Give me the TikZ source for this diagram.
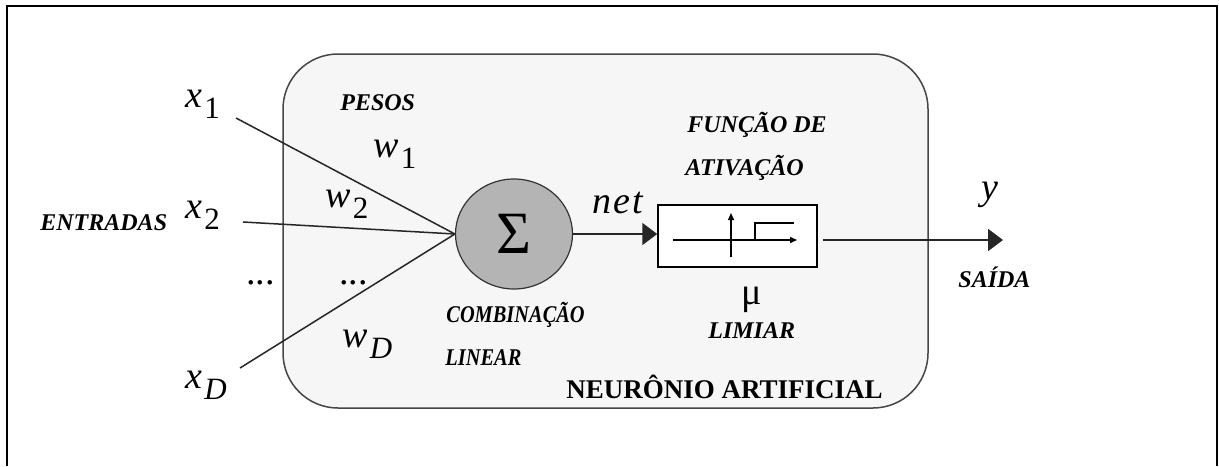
\documentclass[tikz,border=0pt]{standalone}
\usepackage{fontspec}
\setmainfont{Liberation Serif}[
  UprightFont={Liberation Serif},
  BoldFont={Liberation Serif Bold},
  ItalicFont={Liberation Serif Italic},
  BoldItalicFont={Liberation Serif Bold Italic}]
\usetikzlibrary{shapes.geometric,arrows.meta}
\definecolor{neurfill}{RGB}{246,246,246}
\definecolor{neurline}{RGB}{70,70,70}
\definecolor{sigfill}{RGB}{180,180,180}
\newcommand{\mvar}[2]{\textit{#1}\kern1pt\raisebox{-5.5pt}{\fontsize{15.5}{16}\selectfont #2}}
\begin{document}
\begin{tikzpicture}[x=0.5pt,y=-0.5pt,
  lbl/.style={font=\fontsize{12}{13}\selectfont\bfseries\itshape, inner sep=0pt, anchor=base west},
  mlbl/.style={font=\fontsize{19}{20}\selectfont, inner sep=0pt, anchor=base west},
  conn/.style={line width=0.75pt, draw=black!85},
  tri/.style={-{Triangle[length=7.5pt,width=11pt]}},
  smalltri/.style={-{Triangle[length=3.5pt,width=3pt]}}]
\useasboundingbox (0,0) rectangle (1219,466);
% outer frame (open at the bottom)
\draw[line width=1pt] (7,466) -- (7,6) -- (1217,6) -- (1217,466);
% neuron body
\node[draw=neurline, fill=neurfill, line width=0.75pt, rounded corners=27.5pt,
      minimum width=322.5pt, minimum height=177pt, inner sep=0pt] (neuron) at (605.5,231) {};
% summation
\node[ellipse, draw=black!80, fill=sigfill, line width=0.6pt, minimum width=58.5pt,
      minimum height=55pt, inner sep=0pt, font=\fontsize{30}{30}\selectfont] (sigma) at (514,234) {Σ};
% activation box
\node[draw, fill=white, line width=0.75pt, minimum width=79.5pt, minimum height=31pt,
      inner sep=0pt] (box) at (737.5,236) {};
% step function inside box
\draw[line width=0.7pt, smalltri] (673,240) -- (797,240);
\draw[line width=0.7pt, smalltri] (731,257) -- (731,213);
\draw[line width=0.7pt] (755,240) -- (755,223) -- (794,223);
% inputs
\coordinate (x1s) at (236,118);
\coordinate (x2s) at (243,222);
\coordinate (xDs) at (240,368);
\draw[conn] (x1s) -- (sigma.west);
\draw[conn] (x2s) -- (sigma.west);
\draw[conn] (xDs) -- (sigma.west);
% net arrow and output
\draw[conn, tri] (sigma.east) -- (box.west |- sigma.east);
\coordinate (yout) at (1003,240);
\draw[conn, tri] ([xshift=2.5pt,yshift=-2pt]box.east) -- (yout);
% math labels
\node[mlbl] (lx1) at (185,107) {\mvar{x}{1}};
\node[mlbl] (lx2) at (185,218) {\mvar{x}{2}};
\node[mlbl] (lxD) at (185,388) {\mvar{x}{\textit{D}}};
\node[mlbl] (lw1) at (373,157) {\mvar{w}{1}};
\node[mlbl] (lw2) at (325,207) {\mvar{w}{2}};
\node[mlbl] (lwD) at (342,347) {\mvar{w}{\textit{D}}};
\node[mlbl] (ly) at (981,199) {\textit{y}};
\node[mlbl] (lnet) at (592,213) {\textit{n\kern1pt e\kern1pt t}};
\node[mlbl, anchor=base] (lmu) at (752,304) {μ};
\node[mlbl] (dots1) at (246,284) {...};
\node[mlbl] (dots2) at (339,284) {...};
% text labels
\node[lbl] (pesos) at (340,110) {PESOS};
\node[lbl] (entr) at (40,230) {ENTRADAS};
\node[lbl] (comb) at (446,322) {\scalebox{0.85}[1]{COMBINAÇÃO}};
\node[lbl] (lin) at (445,365) {\scalebox{0.85}[1]{LINEAR}};
\node[lbl] (func) at (687,132) {FUNÇÃO DE};
\node[lbl] (ativ) at (685,175) {ATIVAÇÃO};
\node[lbl] (limiar) at (708,338) {LIMIAR};
\node[lbl] (saida) at (958,287) {SAÍDA};
\node[inner sep=0pt, anchor=base east, font=\fontsize{13.5}{14}\selectfont\bfseries] (neurlbl) at (883,398) {NEURÔNIO ARTIFICIAL};
\end{tikzpicture}
\end{document}
